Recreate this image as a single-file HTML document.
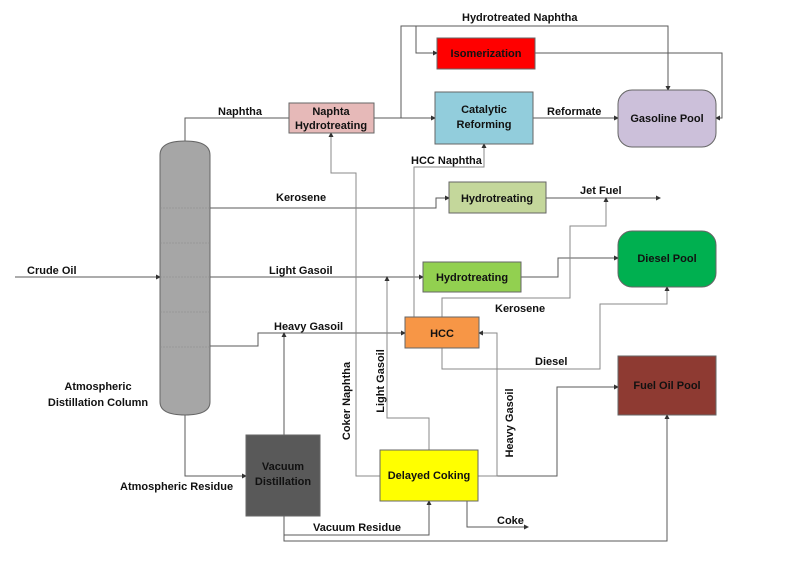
<!DOCTYPE html>
<html><head><meta charset="utf-8"><style>
html,body{margin:0;padding:0;background:#fff;}
svg{display:block;}
text{font-family:"Liberation Sans",sans-serif;font-weight:bold;font-size:11px;fill:#111;}
</style></head><body>
<svg width="795" height="561" viewBox="0 0 795 561" xmlns="http://www.w3.org/2000/svg">
<defs>
<marker id="a" markerWidth="5" markerHeight="5" refX="4" refY="2.5" orient="auto" markerUnits="userSpaceOnUse">
<path d="M0,0 L5,2.5 L0,5 z" fill="#333"/></marker>
</defs>
<g fill="none" stroke="#5a5a5a" stroke-width="1">
<path d="M15,277 H160" marker-end="url(#a)"/>
<path d="M185,141 V118 H289"/>
<path d="M374,118 H435" marker-end="url(#a)"/>
<path d="M401,118 V26 H668 V90" marker-end="url(#a)"/>
<path d="M416,26 V53 H437" marker-end="url(#a)"/>
<path d="M535,53 H722 V118 H716" marker-end="url(#a)"/>
<path d="M533,118 H618" marker-end="url(#a)"/>
<path d="M210,208 H436 V198 H449" marker-end="url(#a)"/>
<path d="M546,198 H660" marker-end="url(#a)"/>
<path d="M210,277 H423" marker-end="url(#a)"/>
<path d="M521,277 H558 V258 H618" marker-end="url(#a)"/>
<path d="M210,346 H258 V333 H405" marker-end="url(#a)"/>
<path d="M185,415 V476 H246" marker-end="url(#a)"/>
<path d="M284,435 V333" marker-end="url(#a)"/>
<path d="M284,516 V535 H429 V501" marker-end="url(#a)"/>
<path d="M284,535 V541 H667 V415" marker-end="url(#a)"/>
<path d="M478,476 H557 V387 H618" marker-end="url(#a)"/>
<path d="M467,501 V527 H528" marker-end="url(#a)"/>
</g>
<g fill="none" stroke="#8a8a8a" stroke-width="1">
<path d="M414,317 V312 V167 H484 V144" marker-end="url(#a)"/>
<path d="M442,317 V298 H570 V226 H606 V198" marker-end="url(#a)"/>
<path d="M442,348 V369 H600 V304 H667 V287" marker-end="url(#a)"/>
<path d="M380,476 H356 V173 H331 V133" marker-end="url(#a)"/>
<path d="M429,450 V418 H387 V277" marker-end="url(#a)"/>
<path d="M478,476 H497 V333 H479" marker-end="url(#a)"/>
</g>
<path d="M160,155 Q160,141 185,141 Q210,141 210,155 V402 Q210,415 185,415 Q160,415 160,402 Z" fill="#a6a6a6" stroke="#666"/>
<g stroke="#8a8a8a" stroke-width="0.6" stroke-dasharray="2,1">
<path d="M160,208H210M160,243H210M160,277H210M160,312H210M160,347H210"/>
</g>
<g stroke="#666" stroke-width="1">
<rect x="289" y="103" width="85" height="30" fill="#e6b9b8"/>
<rect x="437" y="38" width="98" height="31" fill="#ff0000"/>
<rect x="435" y="92" width="98" height="52" fill="#92cddc"/>
<rect x="618" y="90" width="98" height="57" rx="14" fill="#ccc0da"/>
<rect x="449" y="182" width="97" height="31" fill="#c4d79b"/>
<rect x="423" y="262" width="98" height="30" fill="#92d050"/>
<rect x="618" y="231" width="98" height="56" rx="14" fill="#00b050"/>
<rect x="405" y="317" width="74" height="31" fill="#f79646"/>
<rect x="618" y="356" width="98" height="59" fill="#8e3a32"/>
<rect x="246" y="435" width="74" height="81" fill="#595959"/>
<rect x="380" y="450" width="98" height="51" fill="#ffff00"/>
</g>
<g text-anchor="middle">
<text x="331" y="115">Naphta</text><text x="331" y="129">Hydrotreating</text>
<text x="486" y="57">Isomerization</text>
<text x="484" y="113">Catalytic</text><text x="484" y="128">Reforming</text>
<text x="667" y="122">Gasoline Pool</text>
<text x="497" y="202">Hydrotreating</text>
<text x="472" y="281">Hydrotreating</text>
<text x="667" y="262">Diesel Pool</text>
<text x="442" y="337">HCC</text>
<text x="667" y="389">Fuel Oil Pool</text>
<text x="283" y="470">Vacuum</text><text x="283" y="485">Distillation</text>
<text x="429" y="479">Delayed Coking</text>
<text x="98" y="390">Atmospheric</text><text x="98" y="406">Distillation Column</text>
</g>
<text x="27" y="274">Crude Oil</text>
<text x="218" y="115">Naphtha</text>
<text x="462" y="21">Hydrotreated Naphtha</text>
<text x="547" y="115">Reformate</text>
<text x="411" y="164">HCC Naphtha</text>
<text x="276" y="201">Kerosene</text>
<text x="580" y="194">Jet Fuel</text>
<text x="269" y="274">Light Gasoil</text>
<text x="495" y="312">Kerosene</text>
<text x="274" y="330">Heavy Gasoil</text>
<text x="535" y="365">Diesel</text>
<text x="120" y="490">Atmospheric Residue</text>
<text x="313" y="531">Vacuum Residue</text>
<text x="497" y="524">Coke</text>
<g text-anchor="middle">
<text transform="translate(350,401) rotate(-90)">Coker Naphtha</text>
<text transform="translate(384,381) rotate(-90)">Light Gasoil</text>
<text transform="translate(513,423) rotate(-90)">Heavy Gasoil</text>
</g>
</svg>
</body></html>
